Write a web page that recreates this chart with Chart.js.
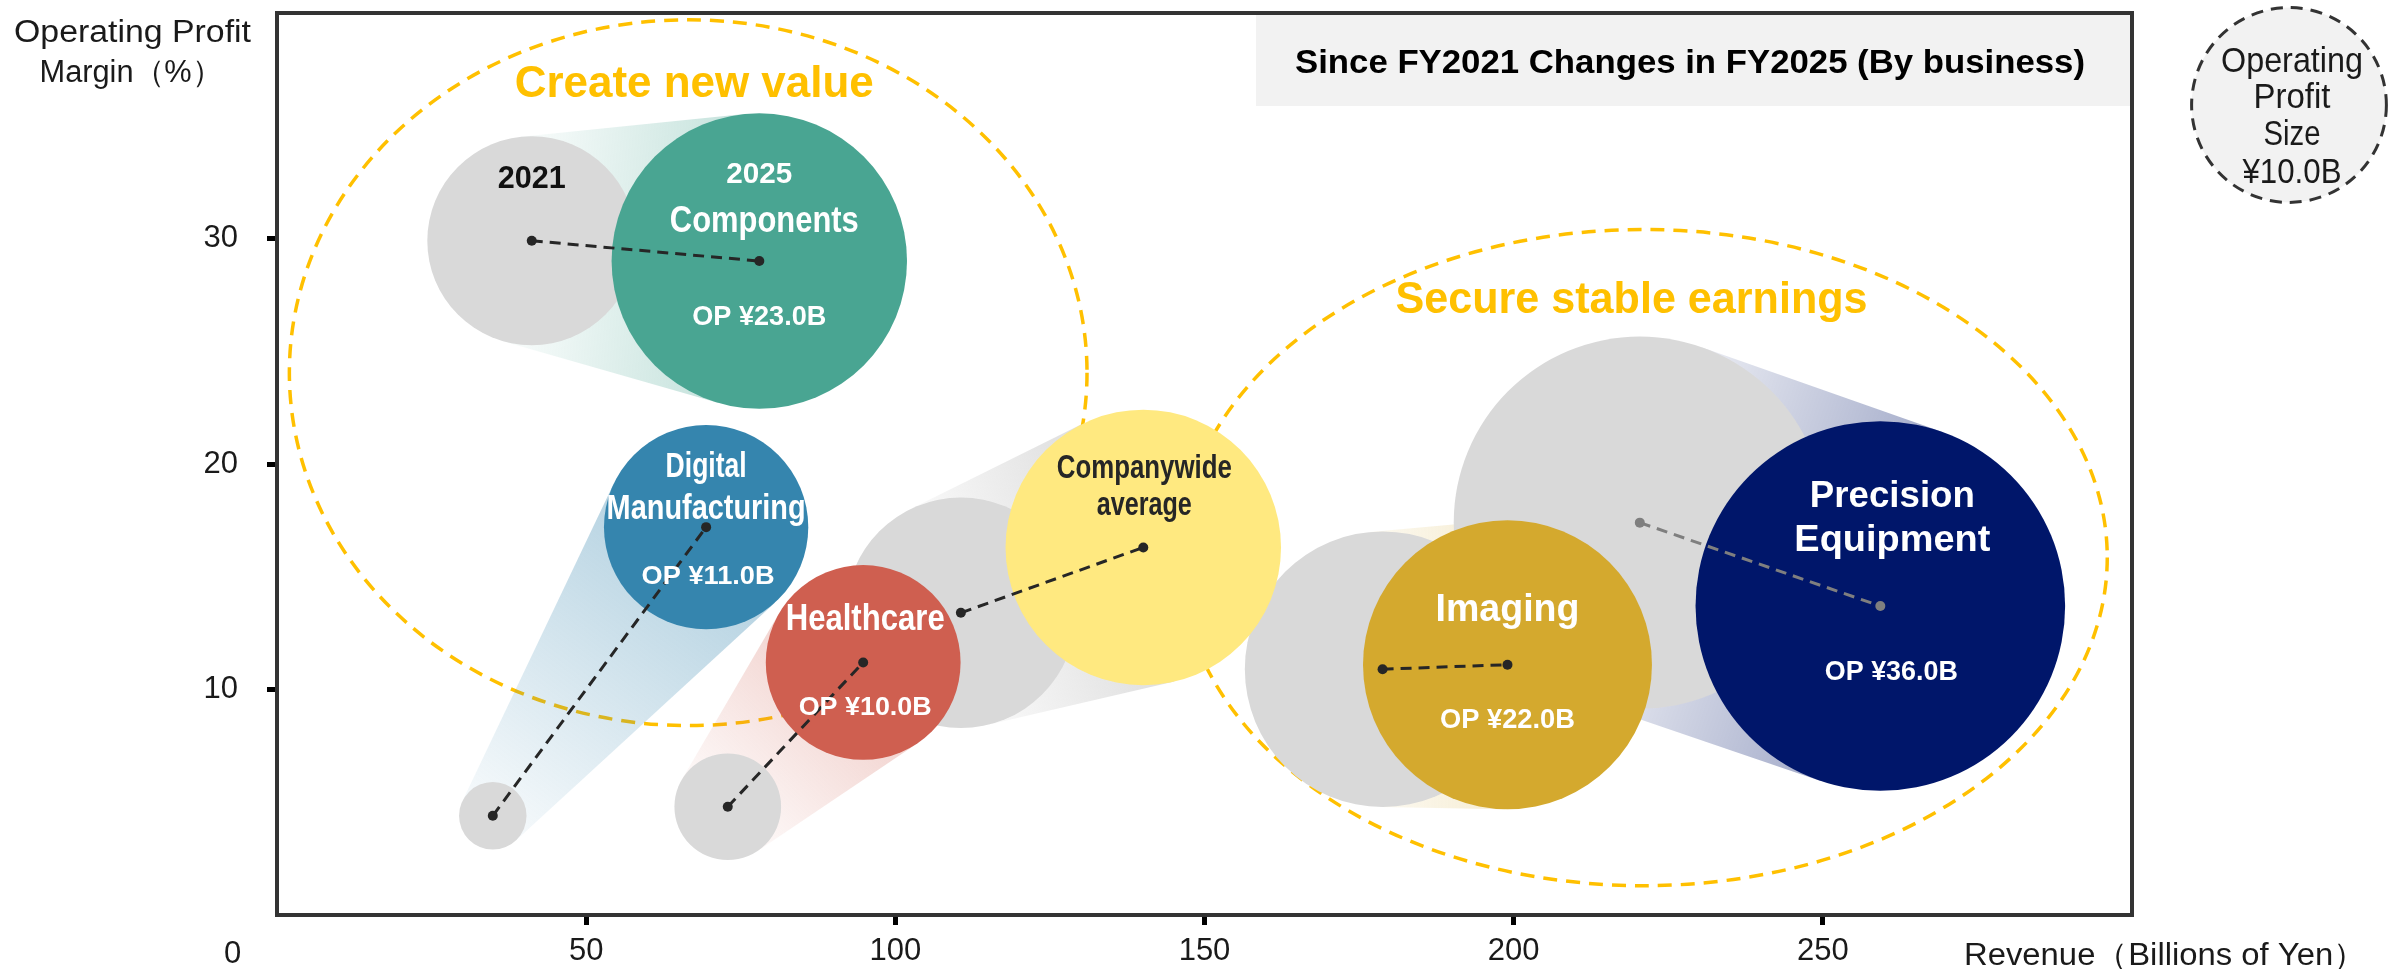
<!DOCTYPE html>
<html>
<head>
<meta charset="utf-8">
<script src="https://cdn.jsdelivr.net/npm/chart.js@4.4.1/dist/chart.umd.min.js"></script>
<style>
  html, body { margin: 0; padding: 0; background: #fff; }
  canvas { display: block; }
</style>
</head>
<body>
<canvas id="myChart" width="2397" height="969"></canvas>
<script>
// data
const businesses = ['Components', 'Digital Manufacturing', 'Healthcare', 'Companywide average', 'Imaging', 'Precision Equipment'];
const revenue2021 = [41.2, 34.9, 72.9, 110.6, 178.8, 220.4];
const margin2021 = [29.9, 4.4, 4.8, 13.4, 10.9, 17.4];
const profit2021 = [11.5, 1.2, 3.0, 14.0, 20.0, 36.5];
const revenue2025 = [78.0, 69.4, 94.8, 140.1, 199.0, 259.3];
const margin2025 = [29.0, 17.2, 11.2, 16.3, 11.1, 13.7];
const profit2025 = [23.0, 11.0, 10.0, 20.0, 22.0, 36.0];
const xTicks = [50, 100, 150, 200, 250];
const yTicks = [10, 20, 30];
const legendProfit = 10.0;

// dashed focus areas, in axis units
const focusAreas = [
  { label: 'Create new value', xMin: 2.0, xMax: 131.0, yMin: 8.4, yMax: 39.7 },
  { label: 'Secure stable earnings', xMin: 146.0, xMax: 296.0, yMin: 1.3, yMax: 30.4 }
];

const FONT = '"Liberation Sans", Arial, sans-serif';
const SIZE_K = 30.8; // bubble radius px per sqrt(billion yen)
const gray = '#D9D9D9';
const colors2025 = ['#49A592', '#3585AE', '#CF5F50', '#FFE980', '#D4A92E', '#00166A'];
const coneColors = ['#49A592', '#3585AE', '#CF5F50', '#A6A6A6', '#D4A92E', '#00166A'];
const coneAlpha = [[0.05, 0.36], [0.05, 0.38], [0.05, 0.3], [0.08, 0.4], [0.08, 0.22], [0.08, 0.36]];
const lineColors = ['#262626', '#262626', '#262626', '#262626', '#262626', '#7F7F7F'];

function radius(op) { return SIZE_K * Math.sqrt(op); }

function rgba(hex, a) {
  const n = parseInt(hex.slice(1), 16);
  return 'rgba(' + (n >> 16 & 255) + ',' + (n >> 8 & 255) + ',' + (n & 255) + ',' + a + ')';
}

// text squeezed/stretched to the width seen in the picture
function fitText(ctx, str, cx, base, size, width, weight, color) {
  ctx.save();
  ctx.font = (weight || 'normal') + ' ' + size + 'px ' + FONT;
  ctx.fillStyle = color || '#000';
  ctx.textAlign = 'center';
  ctx.textBaseline = 'alphabetic';
  const w = ctx.measureText(str).width;
  ctx.translate(cx, base);
  ctx.scale(width ? width / w : 1, 1);
  ctx.fillText(str, 0, 0);
  ctx.restore();
}

// label lines inside the FY2025 bubbles (offsets from the bubble centre)
const bubbleText = [
  [{ t: '2025', dy: -78, size: 30, w: 66 }, { t: 'Components', dx: 5, dy: -29, size: 37, w: 189 }, { op: true, dy: 64, size: 28, w: 134 }],
  [{ t: 'Digital', dy: -50, size: 35, w: 81 }, { t: 'Manufacturing', dy: -8, size: 35, w: 199 }, { op: true, dx: 2, dy: 57, size: 26, w: 133 }],
  [{ t: 'Healthcare', dx: 2, dy: -32, size: 37, w: 159 }, { op: true, dx: 2, dy: 53, size: 26, w: 133 }],
  [{ t: 'Companywide', dx: 1, dy: -69, size: 34, w: 175, color: '#262626' }, { t: 'average', dx: 1, dy: -32, size: 34, w: 95, color: '#262626' }],
  [{ t: 'Imaging', dy: -44, size: 38, w: 144 }, { op: true, dy: 63, size: 27, w: 135 }],
  [{ t: 'Precision', dx: 12, dy: -99, size: 37, w: 165 }, { t: 'Equipment', dx: 12, dy: -55, size: 37, w: 196 }, { op: true, dx: 11, dy: 74, size: 27, w: 133 }]
];

function drawCone(ctx, x1, y1, r1, x2, y2, r2, color, a) {
  const dx = x2 - x1, dy = y2 - y1, d = Math.hypot(dx, dy);
  if (d <= Math.abs(r1 - r2)) return;
  const th = Math.atan2(dy, dx), ph = Math.acos((r1 - r2) / d);
  const pt = (cx, cy, r, ang) => [cx + r * Math.cos(ang), cy + r * Math.sin(ang)];
  const A = pt(x1, y1, r1, th + ph), B = pt(x2, y2, r2, th + ph);
  const C = pt(x2, y2, r2, th - ph), D = pt(x1, y1, r1, th - ph);
  const g = ctx.createLinearGradient(x1, y1, x2, y2);
  g.addColorStop(0, rgba(color, a[0]));
  g.addColorStop(1, rgba(color, a[1]));
  ctx.save();
  ctx.fillStyle = g;
  ctx.beginPath();
  ctx.moveTo(A[0], A[1]); ctx.lineTo(B[0], B[1]); ctx.lineTo(C[0], C[1]); ctx.lineTo(D[0], D[1]);
  ctx.closePath();
  ctx.fill();
  ctx.restore();
}

const decorations = {
  id: 'decorations',
  beforeDatasetsDraw(chart) {
    const ctx = chart.ctx, xs = chart.scales.x, ys = chart.scales.y, area = chart.chartArea;
    // title box
    ctx.save();
    ctx.fillStyle = '#F2F2F2';
    ctx.fillRect(1256, area.top, area.right - 1256, 106 - area.top);
    ctx.restore();
    fitText(ctx, 'Since FY2021 Changes in FY2025 (By business)', 1690, 73, 34, 790, 'bold', '#000');
    // dashed focus ellipses
    focusAreas.forEach((f, i) => {
      const l = xs.getPixelForValue(f.xMin), r = xs.getPixelForValue(f.xMax);
      const t = ys.getPixelForValue(f.yMax), b = ys.getPixelForValue(f.yMin);
      ctx.save();
      ctx.strokeStyle = '#FFC000';
      ctx.lineWidth = 3.5;
      ctx.setLineDash([14, 9]);
      ctx.beginPath();
      ctx.ellipse((l + r) / 2, (t + b) / 2, (r - l) / 2, (b - t) / 2, 0, 0, Math.PI * 2);
      ctx.stroke();
      ctx.restore();
      const off = i === 0 ? [6, 77, 359] : [-12, 84, 472];
      fitText(ctx, f.label, (l + r) / 2 + off[0], t + off[1], 44, off[2], 'bold', '#FFC000');
    });
  },
  beforeDatasetDraw(chart, args) {
    if (chart.data.datasets[args.index].label !== 'FY2021') return;
    const ctx = chart.ctx, xs = chart.scales.x, ys = chart.scales.y;
    businesses.forEach((b, i) => {
      drawCone(ctx,
        xs.getPixelForValue(revenue2021[i]), ys.getPixelForValue(margin2021[i]), radius(profit2021[i]),
        xs.getPixelForValue(revenue2025[i]), ys.getPixelForValue(margin2025[i]), radius(profit2025[i]),
        coneColors[i], coneAlpha[i]);
    });
  },
  afterDatasetsDraw(chart) {
    const ctx = chart.ctx, xs = chart.scales.x, ys = chart.scales.y, area = chart.chartArea;
    // bubble labels
    businesses.forEach((b, i) => {
      const cx = xs.getPixelForValue(revenue2025[i]), cy = ys.getPixelForValue(margin2025[i]);
      bubbleText[i].forEach(l => {
        const str = l.op ? 'OP ¥' + profit2025[i].toFixed(1) + 'B' : l.t;
        fitText(ctx, str, cx + (l.dx || 0), cy + l.dy, l.size, l.w, 'bold', l.color || '#fff');
      });
    });
    fitText(ctx, '2021', xs.getPixelForValue(revenue2021[0]), ys.getPixelForValue(margin2021[0]) - 53, 31, 68, 'bold', '#111');
    // frame
    ctx.save();
    ctx.strokeStyle = '#333';
    ctx.lineWidth = 4;
    ctx.strokeRect(area.left, area.top, area.right - area.left, area.bottom - area.top);
    ctx.restore();
    // axis titles and origin label
    fitText(ctx, 'Operating Profit', 132.5, 42, 31, 237, 'normal', '#1a1a1a');
    fitText(ctx, 'Margin（%）', 131, 82, 31, 183, 'normal', '#1a1a1a');
    fitText(ctx, 'Revenue（Billions of Yen）', 2165, 965, 31, 402, 'normal', '#1a1a1a');
    fitText(ctx, '0', 232.5, 963, 31, 0, 'normal', '#1a1a1a');
    // size legend
    ctx.save();
    ctx.beginPath();
    ctx.arc(2289, 105, radius(legendProfit), 0, Math.PI * 2);
    ctx.fillStyle = '#F2F2F2';
    ctx.fill();
    ctx.strokeStyle = '#333';
    ctx.lineWidth = 3;
    ctx.setLineDash([12, 8]);
    ctx.stroke();
    ctx.restore();
    const leg = ['Operating', 'Profit', 'Size', '¥' + legendProfit.toFixed(1) + 'B'];
    const legBase = [72, 108, 145, 183];
    const legW = [142, 77, 57, 99];
    leg.forEach((s, k) => fitText(ctx, s, 2292, legBase[k], 35, legW[k], 'normal', '#1a1a1a'));
  }
};

const datasets = [];
businesses.forEach((b, i) => {
  datasets.push({
    type: 'line',
    label: b,
    order: 0,
    data: [{ x: revenue2021[i], y: margin2021[i] }, { x: revenue2025[i], y: margin2025[i] }],
    borderColor: lineColors[i],
    backgroundColor: lineColors[i],
    borderWidth: 3,
    borderDash: [11, 7],
    pointRadius: 5,
    pointBorderWidth: 0,
    pointBackgroundColor: lineColors[i],
    fill: false,
    tension: 0
  });
});
datasets.push({
  type: 'bubble',
  label: 'FY2025',
  order: 1,
  data: businesses.map((b, i) => ({ x: revenue2025[i], y: margin2025[i], r: radius(profit2025[i]) })),
  backgroundColor: colors2025,
  borderWidth: 0
});
datasets.push({
  type: 'bubble',
  label: 'FY2021',
  order: 2,
  data: businesses.map((b, i) => ({ x: revenue2021[i], y: margin2021[i], r: radius(profit2021[i]) })),
  backgroundColor: gray,
  borderWidth: 0
});

const tickGrid = { display: true, drawOnChartArea: false, drawTicks: true, tickLength: 10, tickWidth: 5, tickColor: '#000' };

new Chart(document.getElementById('myChart'), {
  type: 'bubble',
  data: { datasets: datasets },
  options: {
    responsive: false,
    animation: false,
    events: [],
    layout: { autoPadding: false, padding: { top: 13, right: 265, left: 0, bottom: 0 } },
    plugins: { legend: { display: false }, tooltip: { enabled: false } },
    scales: {
      x: {
        type: 'linear', min: 0, max: 300,
        afterBuildTicks: s => { s.ticks = xTicks.map(v => ({ value: v })); },
        afterFit: s => { s.height = 54; s.paddingLeft = 0; s.paddingRight = 0; },
        grid: tickGrid,
        border: { display: false },
        ticks: { padding: 8, color: '#1a1a1a', font: { family: FONT, size: 31 } }
      },
      y: {
        type: 'linear', min: 0, max: 40,
        afterBuildTicks: s => { s.ticks = yTicks.map(v => ({ value: v })); },
        afterFit: s => { s.width = 277; s.paddingTop = 0; s.paddingBottom = 0; },
        grid: tickGrid,
        border: { display: false },
        ticks: { padding: 29, color: '#1a1a1a', font: { family: FONT, size: 31 } }
      }
    }
  },
  plugins: [decorations]
});
</script>
</body>
</html>
